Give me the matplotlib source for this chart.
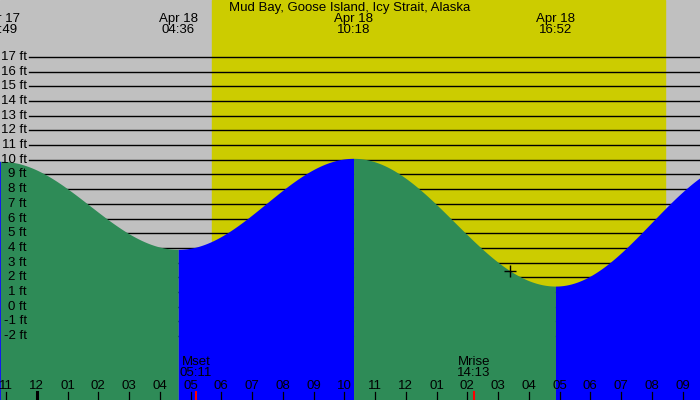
import numpy as np
import matplotlib
matplotlib.use("Agg")
import matplotlib.pyplot as plt

# tide extremes, hours relative to Apr 18 00:00 (local)
tide_hours = [-7.6, -(1 + 11 / 60), 4 + 36 / 60, 10 + 18 / 60, 16 + 52 / 60, 23.1]
tide_heights = [1.2, 9.9, 3.9, 10.1, 1.4, 10.0]
tide_labels = [None, "Apr 17\n22:49", "Apr 18\n04:36", "Apr 18\n10:18", "Apr 18\n16:52", None]

sunrise = 5 + 42 / 60
sunset = 20 + 26 / 60
moon_hours = [5 + 11 / 60, 14 + 13 / 60]
moon_labels = ["Mset\n05:11", "Mrise\n14:13"]
now_hour, now_height = 15 + 23 / 60, 2.45

title = "Mud Bay, Goose Island, Icy Strait, Alaska"
ft_levels = list(range(-2, 18))
hour_ticks = list(range(-1, 22))

W, H = 700, 400
hr_px = 30.75
x0, x1 = -36.8 / hr_px, (W - 36.8) / hr_px
ft_px = 14.68
y1 = 17 + 57 / ft_px
y0 = -2 - (H - 336) / ft_px
fs = 9.5

plt.rcParams["font.family"] = ["Liberation Sans", "DejaVu Sans"]
fig = plt.figure(figsize=(7, 4), dpi=100)
ax = fig.add_axes([0, 0, 1, 1])
ax.set_xlim(x0, x1)
ax.set_ylim(y0, y1)
ax.axis("off")

# night / day background
ax.axvspan(x0, x1, color="#c0c0c0", zorder=0)
ax.axvspan(sunrise, sunset, color="#cccc00", zorder=0)

# level lines and labels
for lv in ft_levels:
    ax.axhline(lv, xmin=29 / W, xmax=1, color="black", lw=1, zorder=1)
    ax.text(x0 + 27 / hr_px, lv, f"{lv} ft", ha="right", va="center",
            fontsize=fs, zorder=4)

# tide curve between extremes, falling green / rising blue
for i in range(len(tide_hours) - 1):
    ta, tb = tide_hours[i], tide_hours[i + 1]
    ha_, hb = tide_heights[i], tide_heights[i + 1]
    t = np.linspace(ta, tb, 200)
    h = hb + (ha_ - hb) * (1 + np.cos(np.pi * (t - ta) / (tb - ta))) / 2
    col = "#2e8b57" if hb < ha_ else "#0000ff"
    ax.fill_between(t, y0, h, color=col, lw=0, zorder=2)

ytop = lambda p: 1 - p / H
xtr = ax.get_xaxis_transform()

ax.text((x0 + x1) / 2, ytop(8), title, ha="center", va="center",
        fontsize=fs, transform=xtr, zorder=5)
for th, lab in zip(tide_hours, tide_labels):
    if lab:
        ax.text(th, ytop(24.5), lab, ha="center", va="center", fontsize=fs,
                linespacing=0.95, transform=xtr, zorder=5)

# hour ticks and labels
for hr in hour_ticks:
    lab = f"{(hr % 12) or 12:02d}"
    ax.text(hr, ytop(386), lab, ha="center", va="center", fontsize=fs,
            transform=xtr, zorder=5)
    ax.plot([hr, hr], [ytop(392), 0], color="black",
            lw=2.2 if hr == 0 else 0.9, transform=xtr, zorder=5)

# moon events
for mh, lab in zip(moon_hours, moon_labels):
    ax.text(mh, ytop(367.5), lab, ha="center", va="center", fontsize=fs,
            linespacing=0.95, transform=xtr, zorder=5)
    ax.plot([mh, mh], [ytop(392), 0], color="red", lw=1.5,
            transform=xtr, zorder=5)

ax.plot(now_hour, now_height, marker="+", color="black", ms=9, mew=1, zorder=6)

fig.savefig("out.png", dpi=100)
